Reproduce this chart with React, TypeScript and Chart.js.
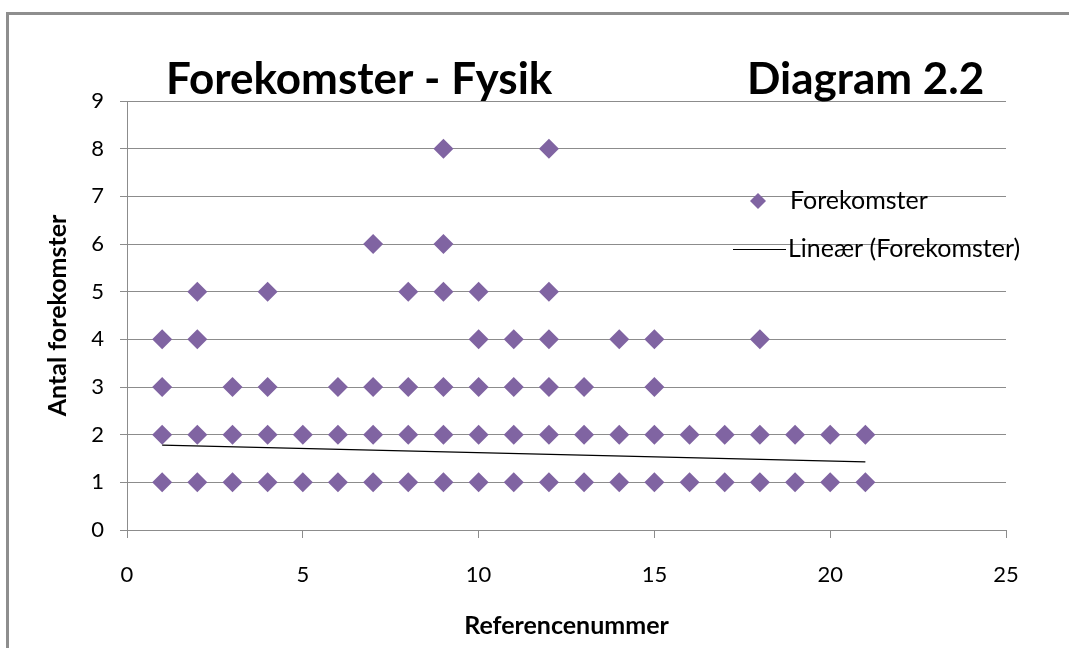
import React, { useEffect, useRef } from "react";
import { Chart, registerables } from "chart.js";

Chart.register(...registerables);

// ---- Data ----
const referenceNumbers = [1, 2, 3, 4, 5, 6, 7, 8, 9, 10, 11, 12, 13, 14, 15, 16, 17, 18, 19, 20, 21];
const occurrencesPerReference = [
  [1, 2, 3, 4],
  [1, 2, 4, 5],
  [1, 2, 3],
  [1, 2, 3, 5],
  [1, 2],
  [1, 2, 3],
  [1, 2, 3, 6],
  [1, 2, 3, 5],
  [1, 2, 3, 5, 6, 8],
  [1, 2, 3, 4, 5],
  [1, 2, 3, 4],
  [1, 2, 3, 4, 5, 8],
  [1, 2, 3],
  [1, 2, 4],
  [1, 2, 3, 4],
  [1, 2],
  [1, 2],
  [1, 2, 4],
  [1, 2],
  [1, 2],
  [1, 2],
];
const trendX = [1, 21];
const trendY = [1.78, 1.43];
const xTickValues = [0, 5, 10, 15, 20, 25];
const yTickValues = [0, 1, 2, 3, 4, 5, 6, 7, 8, 9];

const seriesLabel = "Forekomster";
const trendLabel = "Lineær (Forekomster)";
const chartTitle = "Forekomster - Fysik";
const chartSubTitle = "Diagram 2.2";
const xAxisTitle = "Referencenummer";
const yAxisTitle = "Antal forekomster";

const PURPLE = "#8064A2";
const GRID = "#8c8c8c";
const FONT = "Lato, 'Open Sans', sans-serif";

export default function App() {
  const canvasRef = useRef<HTMLCanvasElement | null>(null);

  useEffect(() => {
    if (!canvasRef.current) return;

    const points: { x: number; y: number }[] = [];
    referenceNumbers.forEach((ref, i) => {
      occurrencesPerReference[i].forEach((v) => points.push({ x: ref, y: v }));
    });
    const trendPoints = trendX.map((x, i) => ({ x, y: trendY[i] }));

    const overlayPlugin = {
      id: "overlay",
      afterDraw(chart: any) {
        const ctx = chart.ctx as CanvasRenderingContext2D;
        ctx.save();
        ctx.fillStyle = "#000";
        ctx.textBaseline = "alphabetic";
        ctx.textAlign = "left";
        ctx.font = `bold 44px ${FONT}`;
        ctx.fillText(chartTitle, 166, 94);
        ctx.fillText(chartSubTitle, 747, 94);

        // legend
        ctx.font = `25px ${FONT}`;
        ctx.textBaseline = "middle";
        const dx = 758, dy = 201, r = 8;
        ctx.fillStyle = PURPLE;
        ctx.beginPath();
        ctx.moveTo(dx, dy - r);
        ctx.lineTo(dx + r, dy);
        ctx.lineTo(dx, dy + r);
        ctx.lineTo(dx - r, dy);
        ctx.closePath();
        ctx.fill();
        ctx.fillStyle = "#000";
        ctx.fillText(seriesLabel, 790, 201);
        ctx.strokeStyle = "#000";
        ctx.lineWidth = 1;
        ctx.beginPath();
        ctx.moveTo(733, 249.5);
        ctx.lineTo(786, 249.5);
        ctx.stroke();
        ctx.fillText(trendLabel, 788, 249);
        ctx.restore();
      },
    };

    const chart = new Chart(canvasRef.current, {
      type: "scatter",
      data: {
        datasets: [
          {
            label: trendLabel,
            data: trendPoints,
            showLine: true,
            borderColor: "#000",
            borderWidth: 1.2,
            pointRadius: 0,
            pointHoverRadius: 0,
            fill: false,
          },
          {
            label: seriesLabel,
            data: points,
            pointStyle: "rectRot",
            pointRadius: 10,
            pointHoverRadius: 10,
            backgroundColor: PURPLE,
            borderColor: PURPLE,
            borderWidth: 0,
          },
        ],
      },
      options: {
        animation: false,
        responsive: false,
        maintainAspectRatio: false,
        layout: { padding: { top: 101, right: 63, bottom: 0, left: 0 } },
        plugins: {
          legend: { display: false },
          title: { display: false },
          tooltip: { enabled: false },
        },
        scales: {
          x: {
            type: "linear",
            min: 0,
            max: 25,
            afterBuildTicks: (s: any) => {
              s.ticks = xTickValues.map((v) => ({ value: v }));
            },
            afterFit: (s: any) => {
              s.height = 118;
            },
            grid: { drawOnChartArea: false, drawTicks: true, tickLength: 8, color: GRID },
            border: { color: GRID, width: 1 },
            ticks: {
              padding: 24,
              color: "#000",
              font: { family: FONT, size: 22 },
              maxRotation: 0,
            },
            title: {
              display: true,
              text: xAxisTitle,
              color: "#000",
              font: { family: FONT, size: 25, weight: "bold" },
              padding: { top: 0, bottom: 7 },
            },
          },
          y: {
            type: "linear",
            min: 0,
            max: 9,
            afterBuildTicks: (s: any) => {
              s.ticks = yTickValues.map((v) => ({ value: v }));
            },
            afterFit: (s: any) => {
              s.width = 127;
            },
            grid: { drawOnChartArea: true, drawTicks: true, tickLength: 7, color: GRID },
            border: { color: GRID, width: 1 },
            ticks: {
              padding: 16,
              color: "#000",
              font: { family: FONT, size: 22 },
            },
            title: {
              display: true,
              text: yAxisTitle,
              color: "#000",
              font: { family: FONT, size: 25, weight: "bold" },
              padding: { top: 43, bottom: 0 },
            },
          },
        },
      },
      plugins: [overlayPlugin],
    } as any);

    return () => chart.destroy();
  }, []);

  return (
    <div style={{ position: "absolute", left: 0, top: 0, width: 1069, height: 648, background: "#fff", overflow: "hidden" }}>
      <canvas ref={canvasRef} width={1069} height={648} style={{ display: "block", position: "absolute", left: 0, top: 0 }} />
      <div
        style={{
          position: "absolute",
          left: 6,
          top: 12,
          width: 1100,
          height: 700,
          borderLeft: "3px solid #8e8e8e",
          borderTop: "3px solid #8e8e8e",
          pointerEvents: "none",
        }}
      />
    </div>
  );
}
